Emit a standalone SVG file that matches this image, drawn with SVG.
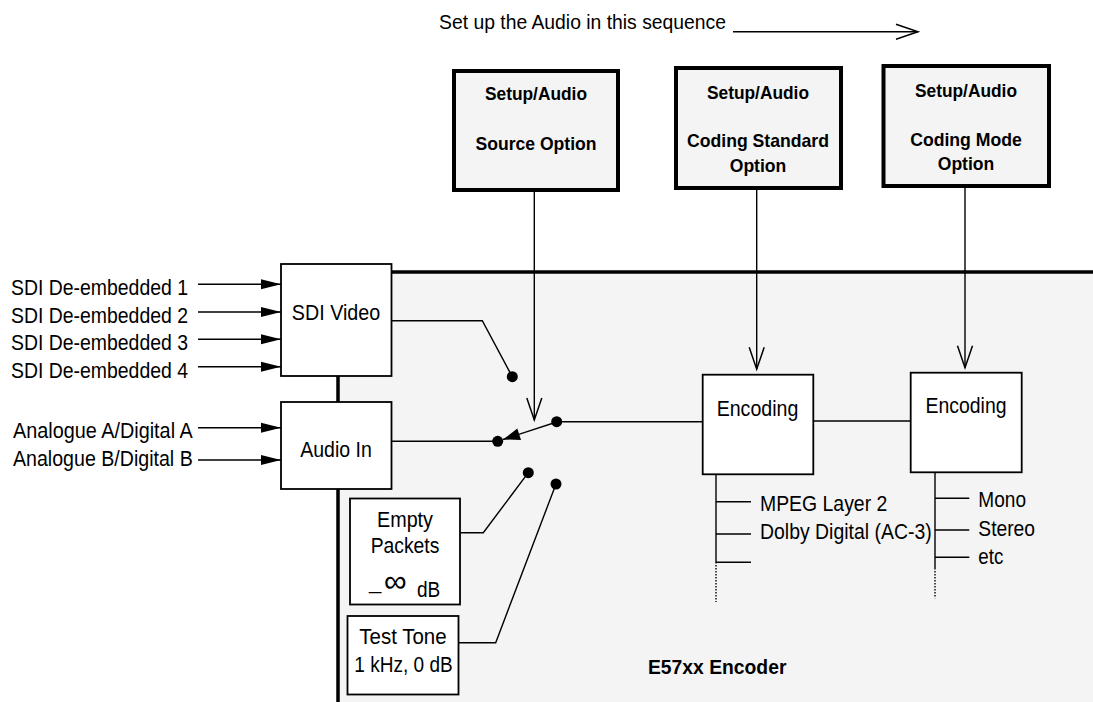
<svg xmlns="http://www.w3.org/2000/svg" width="1093" height="702" viewBox="0 0 1093 702">
<style>
text{font-family:"Liberation Sans",Arial,sans-serif;fill:#000}
.lbl{font-size:22px}
.bold{font-size:18.5px;font-weight:bold;text-anchor:middle}
.mid{text-anchor:middle}
.box{fill:#fff;stroke:#000;stroke-width:1.8}
.setup{fill:#f4f4f4;stroke:#000;stroke-width:4}
.ln{stroke:#000;stroke-width:1.4;fill:none}
.thick{stroke:#000;stroke-width:3.5;fill:none}
.dot{fill:#000}
</style>
<defs>
<marker id="fa" markerUnits="userSpaceOnUse" markerWidth="21" markerHeight="11" refX="20" refY="5" orient="auto" overflow="visible"><path d="M0,0 L20,5 L0,10 z" fill="#000"/></marker>
<marker id="fs" markerUnits="userSpaceOnUse" markerWidth="18" markerHeight="13" refX="17" refY="6" orient="auto" overflow="visible"><path d="M0,0 L17,6 L0,12 z" fill="#000"/></marker>
<marker id="oa" markerUnits="userSpaceOnUse" markerWidth="24" markerHeight="17" refX="22" refY="7.5" orient="auto" overflow="visible"><path d="M0,0 L22,7.5 L0,15" fill="none" stroke="#000" stroke-width="1.5"/></marker>
</defs>

<g id="panel">
<rect x="338" y="272" width="755" height="430" fill="#f4f4f4"/>
<line class="thick" x1="391" y1="272" x2="1093" y2="272"/>
<line class="thick" x1="338" y1="376" x2="338" y2="402"/>
<line class="thick" x1="338" y1="489" x2="338" y2="702"/>
</g>

<g id="sequence-label">
<text x="439" y="28.5" style="font-size:21px" textLength="287" lengthAdjust="spacingAndGlyphs">Set up the Audio in this sequence</text>
</g>

<g id="setup-source">
<rect class="setup" x="454" y="71" width="164" height="119"/>
<text class="bold" x="536" y="100" textLength="102" lengthAdjust="spacingAndGlyphs">Setup/Audio</text>
<text class="bold" x="536" y="150" textLength="121" lengthAdjust="spacingAndGlyphs">Source Option</text>
</g>
<g id="setup-standard">
<rect class="setup" x="676" y="68" width="165" height="120"/>
<text class="bold" x="758" y="99" textLength="102" lengthAdjust="spacingAndGlyphs">Setup/Audio</text>
<text class="bold" x="758" y="146.7" textLength="142" lengthAdjust="spacingAndGlyphs">Coding Standard</text>
<text class="bold" x="758" y="171.7" textLength="56.5" lengthAdjust="spacingAndGlyphs">Option</text>
</g>
<g id="setup-mode">
<rect class="setup" x="883.5" y="66" width="165.5" height="120"/>
<text class="bold" x="966" y="96.7" textLength="102" lengthAdjust="spacingAndGlyphs">Setup/Audio</text>
<text class="bold" x="966" y="146" textLength="111.7" lengthAdjust="spacingAndGlyphs">Coding Mode</text>
<text class="bold" x="966" y="170" textLength="56.5" lengthAdjust="spacingAndGlyphs">Option</text>
</g>

<g id="inputs">
<text class="lbl" x="11" y="295" textLength="177" lengthAdjust="spacingAndGlyphs">SDI De-embedded 1</text>
<text class="lbl" x="11" y="322.7" textLength="177" lengthAdjust="spacingAndGlyphs">SDI De-embedded 2</text>
<text class="lbl" x="11" y="350" textLength="177" lengthAdjust="spacingAndGlyphs">SDI De-embedded 3</text>
<text class="lbl" x="11" y="378" textLength="177" lengthAdjust="spacingAndGlyphs">SDI De-embedded 4</text>
<text class="lbl" x="13" y="438" textLength="179.7" lengthAdjust="spacingAndGlyphs">Analogue A/Digital A</text>
<text class="lbl" x="13" y="466" textLength="179.7" lengthAdjust="spacingAndGlyphs">Analogue B/Digital B</text>
</g>

<g id="sdi-video">
<rect class="box" x="281" y="264" width="110.5" height="112"/>
<text class="lbl mid" x="336" y="320" textLength="88.3" lengthAdjust="spacingAndGlyphs">SDI Video</text>
</g>
<g id="audio-in">
<rect class="box" x="281" y="402" width="110.5" height="87"/>
<text class="lbl mid" x="336" y="456.7" textLength="71.7" lengthAdjust="spacingAndGlyphs">Audio In</text>
</g>
<g id="empty-packets">
<rect class="box" x="350" y="498.5" width="110" height="106"/>
<text class="lbl mid" x="405" y="526.7" textLength="56" lengthAdjust="spacingAndGlyphs">Empty</text>
<text class="lbl mid" x="405" y="553.3" textLength="68.7" lengthAdjust="spacingAndGlyphs">Packets</text>
<text class="lbl" x="369" y="589">_</text>
<text x="395.5" y="592" style="font-size:32px;text-anchor:middle">∞</text>
<text class="lbl" x="417" y="597.3" textLength="23.3" lengthAdjust="spacingAndGlyphs">dB</text>
</g>
<g id="test-tone">
<rect class="box" x="347.5" y="616" width="111" height="78.5"/>
<text class="lbl mid" x="403" y="644" textLength="87.3" lengthAdjust="spacingAndGlyphs">Test Tone</text>
<text class="lbl mid" x="403.5" y="671.7" textLength="98.3" lengthAdjust="spacingAndGlyphs">1 kHz, 0 dB</text>
</g>
<g id="encoding-standard">
<rect class="box" x="702.7" y="374.7" width="110.6" height="99.6"/>
<text class="lbl mid" x="757.5" y="415.7" textLength="81.7" lengthAdjust="spacingAndGlyphs">Encoding</text>
</g>
<g id="encoding-mode">
<rect class="box" x="910.7" y="372.7" width="111" height="99.6"/>
<text class="lbl mid" x="966" y="413.3" textLength="81" lengthAdjust="spacingAndGlyphs">Encoding</text>
</g>
<g id="encoder-label">
<text x="648" y="674" style="font-size:20px;font-weight:bold" textLength="138.4" lengthAdjust="spacingAndGlyphs">E57xx Encoder</text>
</g>

<g id="lists">
<text class="lbl" x="760" y="510.7" textLength="127.3" lengthAdjust="spacingAndGlyphs">MPEG Layer 2</text>
<text class="lbl" x="760" y="539.3" textLength="171.7" lengthAdjust="spacingAndGlyphs">Dolby Digital (AC-3)</text>
<text class="lbl" x="978.3" y="507.3" textLength="47.7" lengthAdjust="spacingAndGlyphs">Mono</text>
<text class="lbl" x="978.3" y="535.7" textLength="56.7" lengthAdjust="spacingAndGlyphs">Stereo</text>
<text class="lbl" x="978.3" y="564" textLength="25" lengthAdjust="spacingAndGlyphs">etc</text>
</g>

<g id="connectors">
<line class="ln" x1="733" y1="31.7" x2="918" y2="31.7" marker-end="url(#oa)"/>
<line class="ln" x1="198" y1="284.3" x2="281" y2="284.3" marker-end="url(#fa)"/>
<line class="ln" x1="198" y1="312" x2="281" y2="312" marker-end="url(#fa)"/>
<line class="ln" x1="198" y1="339.3" x2="281" y2="339.3" marker-end="url(#fa)"/>
<line class="ln" x1="198" y1="366.7" x2="281" y2="366.7" marker-end="url(#fa)"/>
<line class="ln" x1="198" y1="427.7" x2="281" y2="427.7" marker-end="url(#fa)"/>
<line class="ln" x1="198" y1="460" x2="281" y2="460" marker-end="url(#fa)"/>
<line class="ln" x1="534.3" y1="192" x2="534.3" y2="420" marker-end="url(#oa)"/>
<line class="ln" x1="756.7" y1="190" x2="756.7" y2="369.3" marker-end="url(#oa)"/>
<line class="ln" x1="965" y1="188" x2="965" y2="367.7" marker-end="url(#oa)"/>
<polyline class="ln" points="391.5,320.7 482.3,320.7 512.3,376.7"/>
<circle class="dot" cx="512.3" cy="376.7" r="5.5"/>
<line class="ln" x1="391.5" y1="441.3" x2="497.7" y2="441.3"/>
<circle class="dot" cx="497.7" cy="441.3" r="5.5"/>
<line class="ln" x1="556.7" y1="422" x2="503" y2="439.5" marker-end="url(#fs)"/>
<circle class="dot" cx="556.7" cy="421.7" r="5.5"/>
<line class="ln" x1="556.7" y1="421.7" x2="702.7" y2="421.7"/>
<line class="ln" x1="813.3" y1="421" x2="910.7" y2="421"/>
<polyline class="ln" points="460,532.7 483.3,532.7 528.3,472.7"/>
<circle class="dot" cx="528.3" cy="472.7" r="5.5"/>
<polyline class="ln" points="458.5,642.7 495.7,642.7 556,484"/>
<circle class="dot" cx="556" cy="484" r="5.5"/>
<line class="ln" x1="716" y1="474.3" x2="716" y2="562"/>
<line class="ln" x1="716" y1="562" x2="716" y2="602" stroke-dasharray="1.5,1.5"/>
<line class="ln" x1="716" y1="501.7" x2="751" y2="501.7"/>
<line class="ln" x1="716" y1="534" x2="751" y2="534"/>
<line class="ln" x1="716" y1="562.3" x2="751" y2="562.3"/>
<line class="ln" x1="935" y1="472.3" x2="935" y2="568"/>
<line class="ln" x1="935" y1="568" x2="935" y2="598.3" stroke-dasharray="1.5,1.5"/>
<line class="ln" x1="935" y1="498.3" x2="969.3" y2="498.3"/>
<line class="ln" x1="935" y1="530" x2="969.3" y2="530"/>
<line class="ln" x1="935" y1="557.3" x2="969.3" y2="557.3"/>
</g>
</svg>
